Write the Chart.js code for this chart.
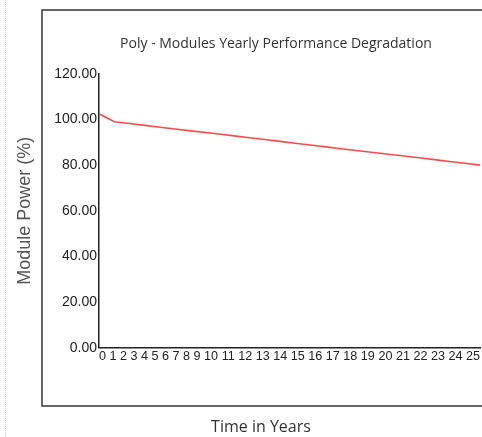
<!DOCTYPE html>
<html>
<head>
<meta charset="utf-8">
<script src="https://cdn.jsdelivr.net/npm/chart.js@4.4.0/dist/chart.umd.min.js"></script>
<style>
  html, body { margin: 0; padding: 0; background: #fff; }
  #wrap { width: 482px; height: 437px; }
</style>
</head>
<body>
<div id="wrap"><canvas id="degradation"></canvas></div>
<script>
// years on the x axis
const years = [0, 1, 2, 3, 4, 5, 6, 7, 8, 9, 10, 11, 12, 13, 14, 15, 16, 17, 18, 19, 20, 21, 22, 23, 24, 25];
// module power in % of nominal
const modulePower = [102.5, 99.0, 98.2, 97.4, 96.6, 95.8, 95.0, 94.3, 93.5, 92.7, 91.9, 91.1, 90.3,
  89.5, 88.7, 87.9, 87.1, 86.3, 85.5, 84.8, 84.0, 83.2, 82.4, 81.6, 80.8, 80.0];
const yTicks = [0, 20, 40, 60, 80, 100, 120];

const titleText = "Poly - Modules Yearly Performance Degradation";
const yTitle = "Module Power (%)";
const xTitle = "Time in Years";

// outer frame of the scanned chart box, plus the faint page rule on the left
const framePlugin = {
  id: "frame",
  beforeDraw(chart) {
    const ctx = chart.ctx;
    ctx.save();
    ctx.fillStyle = "#fff";
    ctx.fillRect(0, 0, chart.width, chart.height);
    ctx.strokeStyle = "#cfcfcf";
    ctx.lineWidth = 1;
    ctx.setLineDash([1, 1]);
    ctx.beginPath();
    ctx.moveTo(5.5, 0);
    ctx.lineTo(5.5, chart.height);
    ctx.stroke();
    ctx.setLineDash([]);
    ctx.strokeStyle = "#333";
    ctx.lineWidth = 1.5;
    ctx.strokeRect(42, 10, 500, 396);
    ctx.restore();
  },
};

// the scanned titles are centred on the frame, not on the canvas
const titleShift = {
  id: "titleShift",
  afterLayout(chart) {
    chart.boxes.forEach((box) => {
      if (!box.options || box.options.text === undefined) return;
      if (box.options.text === titleText) box.left = 72;
      if (box.options.text === xTitle) box.left = 42;
    });
  },
};

const canvas = document.getElementById("degradation");

new Chart(canvas, {
  type: "line",
  data: {
    datasets: [
      {
        label: "Module Power",
        data: years.map((y, i) => ({ x: y, y: modulePower[i] })),
        borderColor: "#ff4a4a",
        borderWidth: 1.6,
        pointRadius: 0,
        tension: 0,
      },
    ],
  },
  options: {
    responsive: true,
    maintainAspectRatio: false,
    animation: false,
    layout: { padding: { left: 0, right: 2, top: 0, bottom: 0 } },
    plugins: {
      legend: { display: false },
      tooltip: { enabled: false },
      title: {
        display: true,
        text: titleText,
        color: "#333",
        font: { family: "'Open Sans', 'DejaVu Sans', sans-serif", size: 14, weight: "normal" },
        padding: { top: 36, bottom: 21 },
      },
      subtitle: {
        display: true,
        position: "bottom",
        text: xTitle,
        color: "#333",
        font: { family: "'Open Sans', 'DejaVu Sans', sans-serif", size: 16, weight: "normal" },
        padding: { top: 50, bottom: 0 },
      },
    },
    scales: {
      x: {
        type: "linear",
        min: 0,
        max: 25,
        grid: { display: false, drawTicks: false },
        border: { color: "#222", width: 1.5 },
        ticks: { display: false },
        title: {
          display: true,
          text: years.join(" "),
          align: "start",
          color: "#222",
          font: { family: "'Liberation Sans', Arial, sans-serif", size: 13 },
          padding: { top: 0, bottom: 4 },
        },
        afterFit(scale) {
          scale.height = 20;
        },
      },
      y: {
        min: 0,
        max: 120,
        grid: { display: false, drawTicks: false },
        border: { color: "#222", width: 1.5 },
        afterBuildTicks(scale) {
          scale.ticks = yTicks.map((v) => ({ value: v }));
        },
        ticks: {
          color: "#222",
          padding: 2,
          font: { family: "'Liberation Sans', Arial, sans-serif", size: 14 },
          callback: (v) => Number(v).toFixed(2),
        },
        title: {
          display: true,
          text: yTitle,
          color: "#555",
          font: { family: "'Liberation Sans', Arial, sans-serif", size: 18 },
          padding: { top: 14 },
        },
        afterFit(scale) {
          scale.width = 99;
        },
      },
    },
  },
  plugins: [framePlugin, titleShift],
});
</script>
</body>
</html>
